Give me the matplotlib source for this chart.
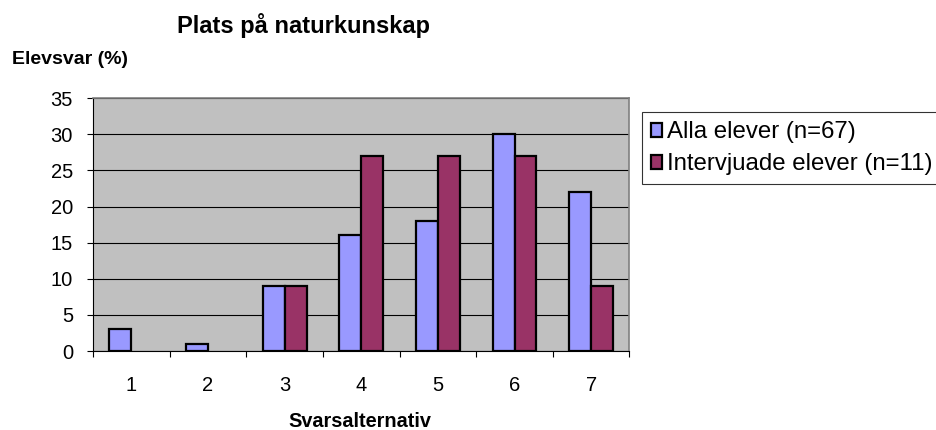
import numpy as np
import matplotlib
matplotlib.use("Agg")
import matplotlib.pyplot as plt

plt.rcParams['font.family'] = ['Liberation Sans', 'DejaVu Sans']

#---------data-----------
categories = ["1", "2", "3", "4", "5", "6", "7"]
alla = [3, 1, 9, 16, 18, 30, 22]
intervjuade = [0, 0, 9, 27, 27, 27, 9]
yticks = [0, 5, 10, 15, 20, 25, 30, 35]

#---------figure-----------
fig = plt.figure(figsize=(9.37, 4.30), dpi=100)
ax = fig.add_axes([0.0993, 0.1837, 0.5725, 0.588])
ax.set_facecolor("#C0C0C0")

x = np.arange(len(categories))
w = 1 / 3.5
ax.bar(x - w / 2, alla, width=w, color="#9999FF", edgecolor="black", linewidth=1.6,
       label="Alla elever (n=67)", zorder=3)
# zero-height bars are not drawn in the original
iv = np.array(intervjuade, dtype=float)
mask = iv > 0
ax.bar(x[mask] + w / 2, iv[mask], width=w, color="#993366", edgecolor="black", linewidth=1.6,
       label="Intervjuade elever (n=11)", zorder=3)

ax.set_xlim(-0.5, len(categories) - 0.5)
ax.set_ylim(0, 35)
ax.set_yticks(yticks)
ax.yaxis.grid(True, color="black", linewidth=0.8, zorder=1)
ax.set_axisbelow(True)

# ticks between categories, labels centered
ax.set_xticks(np.arange(-0.5, len(categories), 1.0))
ax.set_xticklabels([])
ax.set_xticks(x, minor=True)
ax.set_xticklabels(categories, minor=True)
ax.tick_params(axis="x", which="minor", length=0, pad=18, labelsize=14.5)
ax.tick_params(axis="x", which="major", length=4.5, direction="out", color="black")
ax.tick_params(axis="y", length=4.5, direction="out", labelsize=14.5, pad=10)

for s in ["top", "right"]:
    ax.spines[s].set_color("#808080")
    ax.spines[s].set_linewidth(1.2)
ax.spines["left"].set_color("black")
ax.spines["bottom"].set_color("black")

fig.text(0.3234, 0.923, "Plats på naturkunskap", ha="center", va="baseline",
         fontsize=17, fontweight="bold")
fig.text(0.0128, 0.851, "Elevsvar (%)", ha="left", va="baseline",
         fontsize=14, fontweight="bold")
fig.text(0.3845, 0.006, "Svarsalternativ", ha="center", va="baseline",
         fontsize=14.3, fontweight="bold")

leg = ax.legend(loc="upper left", bbox_to_anchor=(1.0235, 0.945), fontsize=17.3,
                frameon=True, fancybox=False, edgecolor="black", borderaxespad=0,
                handlelength=0.45, handleheight=0.5, handletextpad=0.2,
                labelspacing=0.42, borderpad=0.38)
leg.get_frame().set_linewidth(0.8)

plt.savefig("out.png", dpi=100)
